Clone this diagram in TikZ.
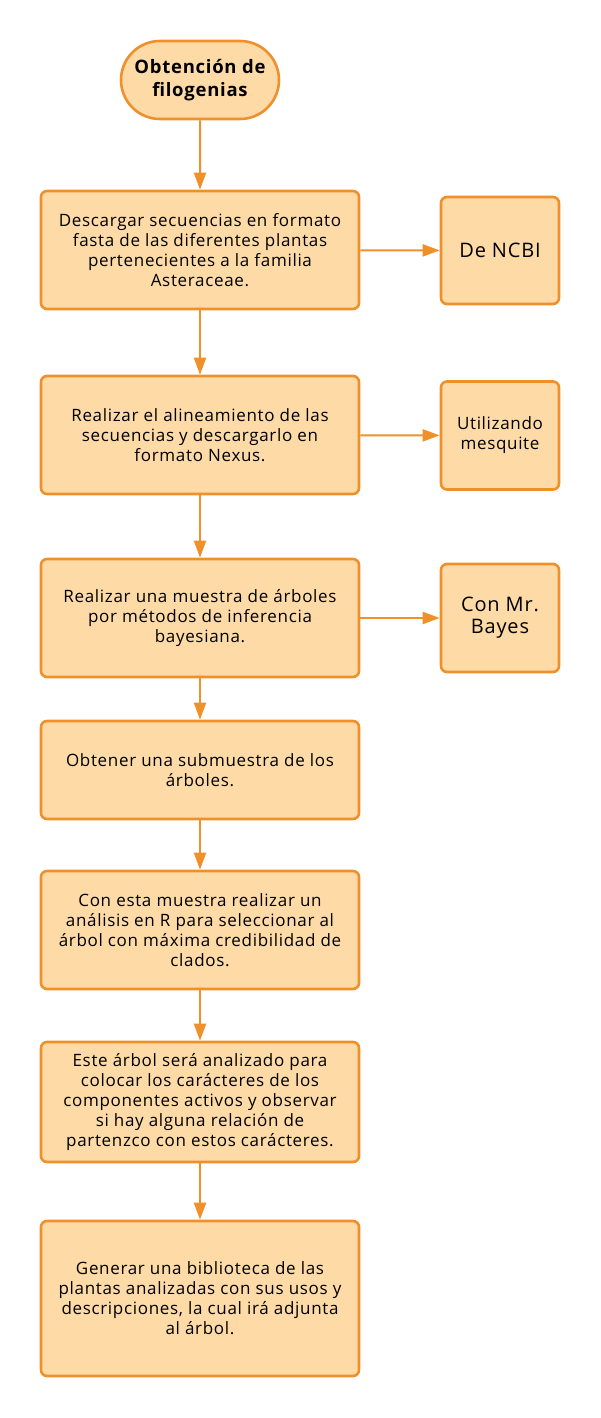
\documentclass[tikz,border=0pt]{standalone}
\usepackage{fontspec}
\setmainfont{Open Sans}[LetterSpace=4]
\usetikzlibrary{arrows.meta,shapes.misc}
\definecolor{boxfill}{HTML}{FDDAA6}
\definecolor{boxline}{HTML}{F0902B}
\begin{document}
\begin{tikzpicture}[x=1pt,y=-1pt,
  proc/.style={draw=boxline,fill=boxfill,line width=2.6pt,rounded corners=6pt,
    minimum width=318pt,align=center,inner sep=0pt,
    font=\fontsize{17}{20}\selectfont},
  side/.style={draw=boxline,fill=boxfill,line width=2.6pt,rounded corners=6pt,
    minimum width=118pt,align=center,inner sep=0pt,
    font=\fontsize{17}{20}\selectfont},
  startbox/.style={draw=boxline,fill=boxfill,line width=2.6pt,rounded rectangle,
    minimum width=158pt,minimum height=78pt,align=center,inner sep=0pt,
    font=\bfseries\fontsize{18.5}{23}\selectfont},
  conn/.style={draw=boxline,line width=2pt,-{Triangle[length=17pt,width=12pt]}}]
\useasboundingbox (0,0) rectangle (600,1418);
\node[startbox] (s) at (200,80) {Obtención de\\filogenias};
\node[proc,minimum height=118pt] (b1) at (200,250) {Descargar secuencias en formato\\fasta de las diferentes plantas\\pertenecientes a la familia\\Asteraceae.};
\node[side,minimum height=107pt,font=\fontsize{20}{23}\selectfont] (n1) at (500,250.5) {De NCBI};
\node[proc,minimum height=118pt] (b2) at (200,435) {Realizar el alineamiento de las\\secuencias y descargarlo en\\formato Nexus.};
\node[side,minimum height=108pt] (n2) at (500,435.5) {Utilizando\\mesquite};
\node[proc,minimum height=118pt] (b3) at (200,618) {Realizar una muestra de árboles\\por métodos de inferencia\\bayesiana.};
\node[side,minimum height=108pt,font=\fontsize{20}{22}\selectfont] (n3) at (500,618) {Con Mr.\\Bayes};
\node[proc,minimum height=98pt] (b4) at (200,770) {Obtener una submuestra de los\\árboles.};
\node[proc,minimum height=118pt] (b5) at (200,930) {Con esta muestra realizar un\\análisis en R para seleccionar al\\árbol con máxima credibilidad de\\clados.};
\node[proc,minimum height=120pt] (b6) at (200,1102) {Este árbol será analizado para\\colocar los carácteres de los\\componentes activos y observar\\si hay alguna relación de\\partenzco con estos carácteres.};
\node[proc,minimum height=155pt] (b7) at (200,1298.5) {Generar una biblioteca de las\\plantas analizadas con sus usos y\\descripciones, la cual irá adjunta\\al árbol.};
\draw[conn] (s) -- (b1);
\draw[conn] (b1) -- (b2);
\draw[conn] (b2) -- (b3);
\draw[conn] (b3) -- (b4);
\draw[conn] (b4) -- (b5);
\draw[conn] (b5) -- (b6);
\draw[conn] (b6) -- (b7);
\draw[conn] (b1) -- (n1);
\draw[conn] (b2) -- (n2);
\draw[conn] (b3) -- (n3);
\end{tikzpicture}
\end{document}
